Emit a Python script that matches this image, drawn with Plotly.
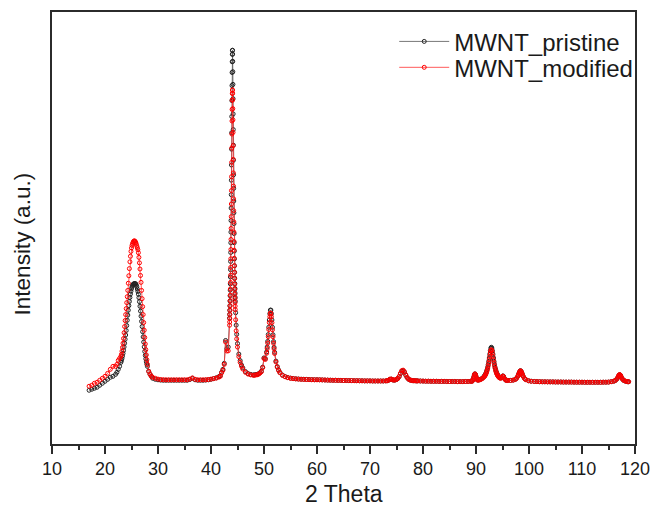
import plotly.graph_objects as go

# 2-theta sampling positions (degrees)
two_theta = [
    17.0, 17.5, 18.0, 18.5, 19.0, 19.5, 20.0, 20.5, 21.0, 21.5, 22.0,
    22.25, 22.5, 22.75,
    23.0, 23.1, 23.2, 23.3, 23.4, 23.5, 23.6, 23.7, 23.8, 23.9,
    24.0, 24.1, 24.2, 24.3, 24.4, 24.5, 24.6, 24.7, 24.8, 24.9,
    25.0, 25.1, 25.2, 25.3, 25.4, 25.5, 25.6, 25.7, 25.8, 25.9,
    26.0, 26.1, 26.2, 26.3, 26.4, 26.5, 26.6, 26.7, 26.8, 26.9,
    27.0, 27.1, 27.2, 27.3, 27.4, 27.5, 27.6, 27.7, 27.8, 27.9, 28.0,
    28.25, 28.5, 28.75, 29.0,
    29.5, 30.0, 30.5, 31.0, 31.5, 32.0, 32.5, 33.0, 33.5, 34.0, 34.5, 35.0, 35.5, 36.0, 36.5,
    37.0, 37.5, 38.0, 38.5, 39.0, 39.5, 40.0, 40.5, 41.0, 41.5,
    41.75, 42.0, 42.25, 42.5, 42.75, 43.0, 43.25, 43.5,
    43.52, 43.54, 43.56, 43.58, 43.60, 43.62, 43.64, 43.66, 43.68, 43.70, 43.72, 43.74, 43.76,
    43.78, 43.80, 43.82, 43.84, 43.86, 43.88, 43.90, 43.92, 43.94, 43.96, 43.98, 44.00, 44.02, 44.04,
    44.06, 44.08, 44.10, 44.12, 44.14, 44.16, 44.18, 44.20, 44.22, 44.24, 44.26, 44.28, 44.30,
    44.32, 44.34, 44.36, 44.38, 44.40, 44.42, 44.44, 44.46, 44.48, 44.50, 44.52, 44.54, 44.56, 44.58,
    44.65, 44.75, 44.85, 45.0, 45.25, 45.5, 45.75, 46.0, 46.5, 47.0, 47.5,
    48.0, 48.25, 48.5, 48.75, 49.0, 49.25, 49.5, 49.75, 50.0, 50.25, 50.5,
    50.6, 50.7, 50.8, 50.9, 51.0, 51.1, 51.2, 51.3, 51.4, 51.5, 51.6, 51.7, 51.8, 51.9, 52.0,
    52.25, 52.5, 52.75,
    53.0, 53.5, 54.0, 54.5, 55.0, 55.5, 56.0, 56.5, 57.0, 57.5, 58.0, 58.5, 59.0, 59.5, 60.0,
    60.5, 61.0, 61.5, 62.0, 62.5, 63.0, 63.5, 64.0, 64.5, 65.0, 65.5, 66.0, 66.5, 67.0, 67.5,
    68.0, 68.5, 69.0, 69.5, 70.0, 70.5, 71.0, 71.5, 72.0, 72.5, 73.0,
    73.25, 73.5, 73.75, 74.0, 74.25, 74.5, 74.75, 75.0, 75.25, 75.5, 75.75, 76.0, 76.25, 76.5,
    76.75, 77.0, 77.25, 77.5, 77.75, 78.0, 78.25, 78.5, 78.75, 79.0,
    79.5, 80.0, 80.5, 81.0, 81.5, 82.0, 82.5, 83.0, 83.5, 84.0, 84.5, 85.0, 85.5, 86.0, 86.5,
    87.0, 87.5, 88.0, 88.5,
    89.0, 89.25, 89.4, 89.5, 89.6, 89.7, 89.8, 89.9, 90.0, 90.1, 90.2, 90.3, 90.5, 90.75, 91.0,
    91.25, 91.5,
    91.6, 91.7, 91.8, 91.9, 92.0, 92.1, 92.2, 92.3, 92.4, 92.5, 92.6, 92.7, 92.8, 92.9, 93.0,
    93.1, 93.2, 93.3, 93.4, 93.5, 93.6, 93.7, 93.8, 93.9, 94.0, 94.1, 94.2, 94.3, 94.4,
    94.6, 94.8, 95.0, 95.1, 95.2, 95.4, 95.6, 95.8, 96.0, 96.5, 97.0,
    97.4, 97.65, 97.9, 98.0, 98.1, 98.2, 98.3, 98.4, 98.5, 98.6, 98.7, 98.8, 98.9, 99.15, 99.4,
    99.9, 100.4,
    101.0, 101.5, 102.0, 102.5, 103.0, 103.5, 104.0, 104.5, 105.0, 105.5, 106.0, 106.5, 107.0,
    107.5, 108.0, 108.5, 109.0, 109.5, 110.0, 110.5, 111.0, 111.5, 112.0, 112.5, 113.0, 113.5,
    114.0, 114.5, 115.0,
    115.5, 116.0, 116.3, 116.6, 116.8, 116.9, 117.0, 117.1, 117.2, 117.3, 117.4, 117.6, 117.8,
    118.0, 118.3, 118.6, 118.8,
]

# Intensity, pristine MWNT (counts)
pristine = [
    540, 550, 560, 570, 590, 610, 630, 650, 670, 680, 700,
    720, 750, 780,
    820, 838, 858, 882, 910, 940, 975, 1012, 1052, 1095,
    1140, 1190, 1243, 1295, 1344, 1390, 1432, 1472, 1506, 1535,
    1560, 1578, 1593, 1603, 1608, 1610, 1611, 1611, 1608, 1597,
    1580, 1557, 1533, 1505, 1470, 1430, 1384, 1335, 1284, 1232,
    1180, 1128, 1076, 1024, 976, 930, 890, 855, 826, 801, 780,
    730, 700, 680, 660,
    650, 645, 642, 640, 640, 640, 640, 640, 640, 640, 640, 640, 640, 648, 660,
    645, 640, 640, 640, 642, 645, 650, 657, 665, 677,
    684, 720, 750, 810, 1040, 957, 974, 1265,
    1302, 1343, 1388, 1436, 1489, 1546, 1609, 1678, 1752, 1834, 1924, 2022, 2129,
    2245, 2370, 2505, 2650, 2803, 2962, 3127, 3290, 3450, 3601, 3732, 3840, 3915, 3955,
    3955, 3917, 3844, 3740, 3613, 3469, 3316, 3159, 3002, 2851, 2705, 2568, 2441,
    2323, 2214, 2114, 2022, 1938, 1860, 1790, 1725, 1666, 1611, 1562, 1516, 1473, 1434,
    1319, 1194, 1102, 1009, 903, 838, 794, 765, 728, 708, 699,
    694, 695, 697, 700, 706, 716, 731, 772, 865, 858, 925,
    974, 1031, 1099, 1173, 1246, 1309, 1345, 1345, 1309, 1246, 1172, 1097, 1029, 971, 921,
    833, 778, 744,
    720, 692, 677, 668, 662, 658, 655, 653, 651, 650, 649, 648, 647, 646, 646,
    645, 644, 643, 642, 641, 640, 640, 639, 639, 638, 638, 637, 637, 636, 636,
    635, 635, 634, 634, 634, 633, 633, 633, 633, 633, 634,
    636, 641, 650, 652, 645, 641, 643, 648, 658, 677, 707, 732, 737, 722,
    692, 667, 652, 644, 640, 637, 636, 635, 634, 634,
    633, 632, 631, 631, 630, 630, 630, 629, 629, 629, 628, 628, 628, 628, 627,
    627, 627, 628, 628,
    630, 631, 642, 656, 676, 696, 705, 698, 679, 660, 648, 643, 643, 647, 654,
    663, 676,
    684, 692, 702, 715, 730, 748, 770, 797, 829, 864, 902, 937, 963, 972, 963,
    937, 902, 864, 829, 797, 770, 748, 730, 715, 702, 692, 684, 676, 670,
    663, 667, 681, 684, 678, 655, 643, 640, 639, 639, 642,
    649, 661, 682, 694, 708, 721, 732, 736, 731, 720, 706, 692, 680, 659, 647,
    636, 631,
    628, 627, 626, 625, 625, 624, 624, 624, 623, 623, 623, 622, 622,
    622, 622, 621, 621, 621, 621, 620, 620, 620, 620, 620, 620, 620,
    621, 621, 622,
    626, 631, 638, 654, 672, 683, 692, 695, 692, 683, 672, 654, 642,
    635, 629, 626, 625,
]

# Intensity, modified MWNT (counts)
modified = [
    580, 590, 610, 620, 640, 660, 680, 710, 750, 780, 780,
    800, 840, 860,
    880, 900, 932, 970, 1012, 1060, 1118, 1180, 1240, 1300,
    1360, 1420, 1480, 1543, 1615, 1690, 1762, 1830, 1886, 1935,
    1970, 1995, 2013, 2026, 2036, 2040, 2040, 2034, 2024, 2008,
    1990, 1972, 1952, 1922, 1875, 1820, 1758, 1693, 1624, 1543,
    1460, 1380, 1300, 1220, 1143, 1070, 1005, 948, 895, 846, 800,
    730, 700, 680, 670,
    660, 652, 648, 646, 645, 645, 645, 645, 645, 645, 645, 645, 645, 652, 664,
    650, 645, 645, 645, 646, 648, 652, 657, 662, 672,
    680, 715, 740, 800, 1024, 934, 936, 1193,
    1226, 1261, 1301, 1344, 1390, 1441, 1496, 1557, 1623, 1695, 1774, 1860, 1954,
    2055, 2166, 2284, 2411, 2546, 2686, 2829, 2973, 3114, 3245, 3361, 3454, 3521, 3556,
    3556, 3523, 3458, 3369, 3257, 3131, 2997, 2859, 2724, 2591, 2463, 2344, 2232,
    2129, 2034, 1947, 1866, 1791, 1724, 1662, 1605, 1553, 1505, 1462, 1421, 1385, 1350,
    1248, 1137, 1056, 974, 878, 820, 781, 753, 720, 702, 694,
    690, 691, 694, 696, 702, 713, 726, 767, 858, 849, 912,
    958, 1014, 1079, 1150, 1220, 1279, 1314, 1314, 1279, 1219, 1148, 1077, 1012, 956, 909,
    824, 772, 739,
    716, 689, 675, 666, 660, 657, 654, 652, 650, 649, 648, 647, 646, 645, 645,
    645, 644, 643, 642, 641, 640, 640, 639, 639, 638, 638, 637, 637, 636, 636,
    635, 635, 634, 634, 634, 633, 633, 633, 633, 633, 634,
    636, 641, 651, 653, 646, 642, 644, 649, 659, 679, 711, 737, 742, 726,
    695, 669, 653, 645, 640, 637, 636, 635, 634, 634,
    633, 632, 631, 631, 630, 630, 630, 629, 629, 629, 628, 628, 628, 628, 627,
    627, 627, 628, 628,
    629, 630, 641, 655, 675, 695, 704, 697, 678, 659, 647, 642, 642, 645, 652,
    660, 672,
    680, 687, 696, 708, 722, 739, 760, 785, 815, 847, 882, 915, 939, 947, 939,
    915, 882, 847, 815, 785, 760, 739, 722, 708, 696, 687, 680, 672, 667,
    660, 665, 679, 682, 676, 654, 642, 639, 638, 638, 641,
    648, 660, 681, 693, 707, 720, 731, 735, 730, 719, 705, 691, 679, 658, 646,
    635, 630,
    628, 627, 626, 625, 625, 624, 624, 624, 623, 623, 623, 622, 622,
    622, 622, 621, 621, 621, 621, 620, 620, 620, 620, 620, 620, 620,
    621, 621, 622,
    626, 631, 639, 655, 673, 684, 693, 697, 693, 684, 673, 655, 643,
    636, 630, 627, 626,
]

series_names = ["MWNT_pristine", "MWNT_modified"]
x_ticks = [10, 20, 30, 40, 50, 60, 70, 80, 90, 100, 110, 120]

FONT = "Liberation Sans, Arial, Helvetica, sans-serif"
AXIS = "#2b2b2b"

fig = go.Figure()

fig.add_trace(go.Scatter(
    x=two_theta, y=pristine, name=series_names[0], mode="lines+markers",
    line=dict(color="#555555", width=0.8),
    marker=dict(symbol="circle-open", size=4, color="#222222", line=dict(width=1, color="#222222")),
    legend="legend",
))
fig.add_trace(go.Scatter(
    x=two_theta, y=modified, name=series_names[1], mode="lines+markers",
    line=dict(color="#ff3030", width=0.8),
    marker=dict(symbol="circle-open", size=4, color="#ff0000", line=dict(width=1, color="#ff0000")),
    legend="legend2",
))

fig.update_xaxes(
    range=[10, 120], tickmode="array", tickvals=x_ticks,
    ticks="outside", ticklen=8, tickwidth=1.5, tickcolor=AXIS,
    showline=True, linecolor=AXIS, linewidth=1.5, mirror=True,
    showgrid=False, zeroline=False,
    tickfont=dict(family=FONT, size=18, color="#1a1a1a"),
    minor=dict(dtick=5, tick0=10, ticks="outside", ticklen=4, tickwidth=1.5,
               tickcolor=AXIS, showgrid=False),
)
fig.update_yaxes(
    range=[0, 4340], showticklabels=False, ticks="",
    showline=True, linecolor=AXIS, linewidth=1.5, mirror=True,
    showgrid=False, zeroline=False,
)

legend_style = dict(
    xanchor="left", yanchor="middle", bgcolor="rgba(0,0,0,0)",
    itemwidth=50,
    font=dict(family=FONT, size=24, color="#1a1a1a"),
)
fig.update_layout(
    width=660, height=515,
    margin=dict(l=52, r=17, t=10, b=71),
    paper_bgcolor="white", plot_bgcolor="white",
    font=dict(family=FONT, color="#1a1a1a"),
    showlegend=True,
    legend=dict(x=0.587, y=0.931, **legend_style),
    legend2=dict(x=0.587, y=0.871, **legend_style),
    annotations=[
        dict(text="2 Theta", xref="paper", yref="paper", x=0.5, y=-0.1152,
             xanchor="center", yanchor="middle", showarrow=False,
             font=dict(family=FONT, size=23, color="#1a1a1a")),
        dict(text="Intensity (a.u.)", xref="paper", yref="paper", x=-0.049, y=0.463,
             xanchor="center", yanchor="middle", showarrow=False, textangle=-90,
             font=dict(family=FONT, size=22.5, color="#1a1a1a")),
    ],
)

fig.write_html("out.html")
